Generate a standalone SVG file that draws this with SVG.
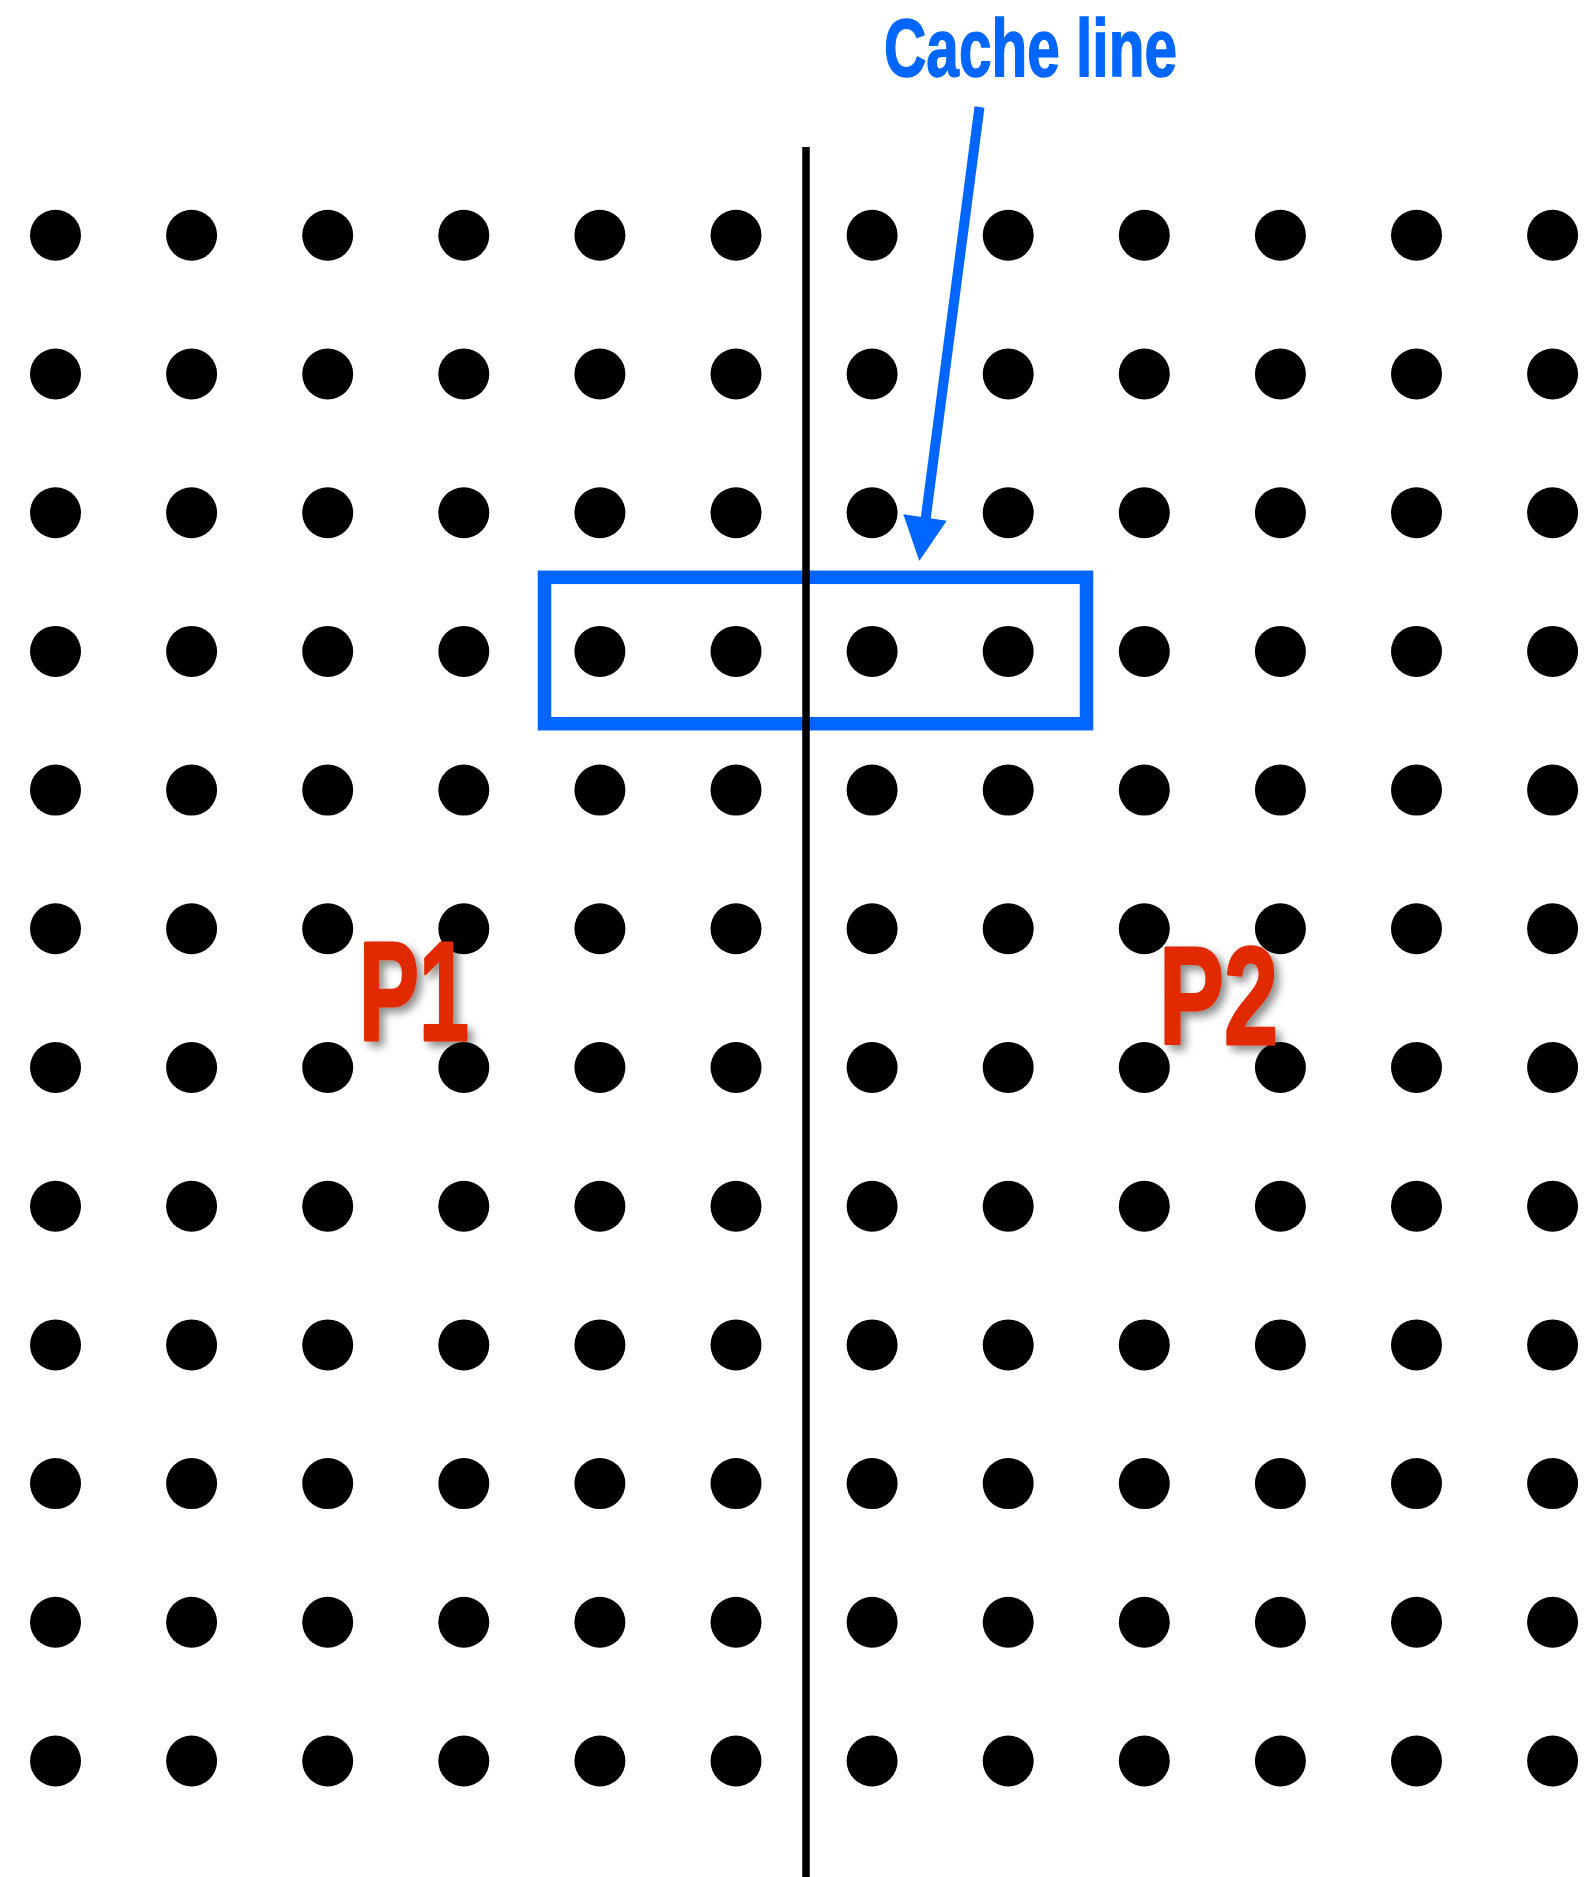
<svg xmlns="http://www.w3.org/2000/svg" xmlns:xlink="http://www.w3.org/1999/xlink" width="1595" height="1877" viewBox="0 0 1595 1877">
<style>
.dot{fill:#000}
.lbl{font-family:"Liberation Sans",Arial,sans-serif;font-weight:bold}
.blue{fill:#0066FF;stroke:#0066FF;stroke-width:1.5}
.red{fill:#E12A00;stroke:#E12A00;stroke-width:3;stroke-linejoin:round}
</style>
<defs>
<circle id="d" r="25.5" class="dot"/>
<filter id="sh" x="-20%" y="-20%" width="150%" height="150%">
<feDropShadow dx="5" dy="5" stdDeviation="4" flood-color="#000" flood-opacity="0.45"/>
</filter>
</defs>
<rect width="1595" height="1877" fill="#fff"/>
<g id="grid">
<g id="r0"><use href="#d" x="55.5" y="235.3"/><use href="#d" x="191.6" y="235.3"/><use href="#d" x="327.7" y="235.3"/><use href="#d" x="463.8" y="235.3"/><use href="#d" x="599.9" y="235.3"/><use href="#d" x="736" y="235.3"/><use href="#d" x="872.1" y="235.3"/><use href="#d" x="1008.2" y="235.3"/><use href="#d" x="1144.3" y="235.3"/><use href="#d" x="1280.4" y="235.3"/><use href="#d" x="1416.5" y="235.3"/><use href="#d" x="1552.6" y="235.3"/></g>
<g id="r1"><use href="#d" x="55.5" y="374"/><use href="#d" x="191.6" y="374"/><use href="#d" x="327.7" y="374"/><use href="#d" x="463.8" y="374"/><use href="#d" x="599.9" y="374"/><use href="#d" x="736" y="374"/><use href="#d" x="872.1" y="374"/><use href="#d" x="1008.2" y="374"/><use href="#d" x="1144.3" y="374"/><use href="#d" x="1280.4" y="374"/><use href="#d" x="1416.5" y="374"/><use href="#d" x="1552.6" y="374"/></g>
<g id="r2"><use href="#d" x="55.5" y="512.7"/><use href="#d" x="191.6" y="512.7"/><use href="#d" x="327.7" y="512.7"/><use href="#d" x="463.8" y="512.7"/><use href="#d" x="599.9" y="512.7"/><use href="#d" x="736" y="512.7"/><use href="#d" x="872.1" y="512.7"/><use href="#d" x="1008.2" y="512.7"/><use href="#d" x="1144.3" y="512.7"/><use href="#d" x="1280.4" y="512.7"/><use href="#d" x="1416.5" y="512.7"/><use href="#d" x="1552.6" y="512.7"/></g>
<g id="r3"><use href="#d" x="55.5" y="651.4"/><use href="#d" x="191.6" y="651.4"/><use href="#d" x="327.7" y="651.4"/><use href="#d" x="463.8" y="651.4"/><use href="#d" x="599.9" y="651.4"/><use href="#d" x="736" y="651.4"/><use href="#d" x="872.1" y="651.4"/><use href="#d" x="1008.2" y="651.4"/><use href="#d" x="1144.3" y="651.4"/><use href="#d" x="1280.4" y="651.4"/><use href="#d" x="1416.5" y="651.4"/><use href="#d" x="1552.6" y="651.4"/></g>
<g id="r4"><use href="#d" x="55.5" y="790.1"/><use href="#d" x="191.6" y="790.1"/><use href="#d" x="327.7" y="790.1"/><use href="#d" x="463.8" y="790.1"/><use href="#d" x="599.9" y="790.1"/><use href="#d" x="736" y="790.1"/><use href="#d" x="872.1" y="790.1"/><use href="#d" x="1008.2" y="790.1"/><use href="#d" x="1144.3" y="790.1"/><use href="#d" x="1280.4" y="790.1"/><use href="#d" x="1416.5" y="790.1"/><use href="#d" x="1552.6" y="790.1"/></g>
<g id="r5"><use href="#d" x="55.5" y="928.8"/><use href="#d" x="191.6" y="928.8"/><use href="#d" x="327.7" y="928.8"/><use href="#d" x="463.8" y="928.8"/><use href="#d" x="599.9" y="928.8"/><use href="#d" x="736" y="928.8"/><use href="#d" x="872.1" y="928.8"/><use href="#d" x="1008.2" y="928.8"/><use href="#d" x="1144.3" y="928.8"/><use href="#d" x="1280.4" y="928.8"/><use href="#d" x="1416.5" y="928.8"/><use href="#d" x="1552.6" y="928.8"/></g>
<g id="r6"><use href="#d" x="55.5" y="1067.5"/><use href="#d" x="191.6" y="1067.5"/><use href="#d" x="327.7" y="1067.5"/><use href="#d" x="463.8" y="1067.5"/><use href="#d" x="599.9" y="1067.5"/><use href="#d" x="736" y="1067.5"/><use href="#d" x="872.1" y="1067.5"/><use href="#d" x="1008.2" y="1067.5"/><use href="#d" x="1144.3" y="1067.5"/><use href="#d" x="1280.4" y="1067.5"/><use href="#d" x="1416.5" y="1067.5"/><use href="#d" x="1552.6" y="1067.5"/></g>
<g id="r7"><use href="#d" x="55.5" y="1206.2"/><use href="#d" x="191.6" y="1206.2"/><use href="#d" x="327.7" y="1206.2"/><use href="#d" x="463.8" y="1206.2"/><use href="#d" x="599.9" y="1206.2"/><use href="#d" x="736" y="1206.2"/><use href="#d" x="872.1" y="1206.2"/><use href="#d" x="1008.2" y="1206.2"/><use href="#d" x="1144.3" y="1206.2"/><use href="#d" x="1280.4" y="1206.2"/><use href="#d" x="1416.5" y="1206.2"/><use href="#d" x="1552.6" y="1206.2"/></g>
<g id="r8"><use href="#d" x="55.5" y="1344.9"/><use href="#d" x="191.6" y="1344.9"/><use href="#d" x="327.7" y="1344.9"/><use href="#d" x="463.8" y="1344.9"/><use href="#d" x="599.9" y="1344.9"/><use href="#d" x="736" y="1344.9"/><use href="#d" x="872.1" y="1344.9"/><use href="#d" x="1008.2" y="1344.9"/><use href="#d" x="1144.3" y="1344.9"/><use href="#d" x="1280.4" y="1344.9"/><use href="#d" x="1416.5" y="1344.9"/><use href="#d" x="1552.6" y="1344.9"/></g>
<g id="r9"><use href="#d" x="55.5" y="1483.6"/><use href="#d" x="191.6" y="1483.6"/><use href="#d" x="327.7" y="1483.6"/><use href="#d" x="463.8" y="1483.6"/><use href="#d" x="599.9" y="1483.6"/><use href="#d" x="736" y="1483.6"/><use href="#d" x="872.1" y="1483.6"/><use href="#d" x="1008.2" y="1483.6"/><use href="#d" x="1144.3" y="1483.6"/><use href="#d" x="1280.4" y="1483.6"/><use href="#d" x="1416.5" y="1483.6"/><use href="#d" x="1552.6" y="1483.6"/></g>
<g id="r10"><use href="#d" x="55.5" y="1622.3"/><use href="#d" x="191.6" y="1622.3"/><use href="#d" x="327.7" y="1622.3"/><use href="#d" x="463.8" y="1622.3"/><use href="#d" x="599.9" y="1622.3"/><use href="#d" x="736" y="1622.3"/><use href="#d" x="872.1" y="1622.3"/><use href="#d" x="1008.2" y="1622.3"/><use href="#d" x="1144.3" y="1622.3"/><use href="#d" x="1280.4" y="1622.3"/><use href="#d" x="1416.5" y="1622.3"/><use href="#d" x="1552.6" y="1622.3"/></g>
<g id="r11"><use href="#d" x="55.5" y="1761"/><use href="#d" x="191.6" y="1761"/><use href="#d" x="327.7" y="1761"/><use href="#d" x="463.8" y="1761"/><use href="#d" x="599.9" y="1761"/><use href="#d" x="736" y="1761"/><use href="#d" x="872.1" y="1761"/><use href="#d" x="1008.2" y="1761"/><use href="#d" x="1144.3" y="1761"/><use href="#d" x="1280.4" y="1761"/><use href="#d" x="1416.5" y="1761"/><use href="#d" x="1552.6" y="1761"/></g>
</g>
<g id="cacheline-box">
<rect x="544.5" y="577.3" width="542" height="146.4" fill="none" stroke="#0066FF" stroke-width="13.5"/>
</g>
<g id="divider">
<line x1="806" y1="147" x2="806" y2="1877" stroke="#000" stroke-width="7.5"/>
</g>
<g id="connectors">
<line x1="979.5" y1="107" x2="925.5" y2="520" stroke="#0066FF" stroke-width="10"/>
<polygon points="903.3,514.3 946.7,520.7 919.3,561" fill="#0066FF"/>
</g>
<g id="label-cacheline">
<text class="lbl blue" x="884" y="76" font-size="82" textLength="293" lengthAdjust="spacingAndGlyphs">Cache line</text>
</g>
<g id="label-p1" filter="url(#sh)">
<text class="lbl red" x="359" y="1039.5" font-size="141" textLength="110" lengthAdjust="spacingAndGlyphs">P1</text>
</g>
<g id="label-p2" filter="url(#sh)">
<text class="lbl red" x="1159" y="1044" font-size="139" textLength="119" lengthAdjust="spacingAndGlyphs">P2</text>
</g>
</svg>
